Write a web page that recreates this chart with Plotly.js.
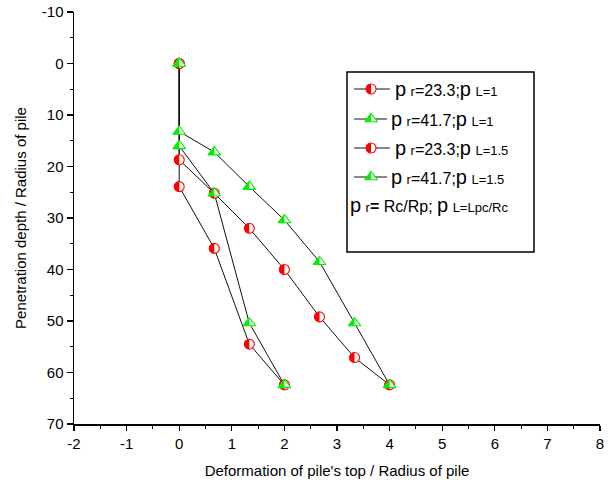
<!DOCTYPE html>
<html>
<head>
<meta charset="utf-8">
<script src="https://cdn.plot.ly/plotly-3.0.1.min.js"></script>
<style>html,body{margin:0;padding:0;background:#fff;}#chart{width:613px;height:482px;}</style>
</head>
<body>
<div id="chart"></div>
<script>
// ---- data ----
const x_r23_L1 = [0, 0, 0.667, 1.333, 2, 2.667, 3.333, 4];
const y_r23_L1 = [0, 18.7, 25.2, 32.0, 40.0, 49.2, 57.1, 62.4];
const x_r41_L1 = [0, 0, 0.667, 1.333, 2, 2.667, 3.333, 4];
const y_r41_L1 = [0, 13.2, 17.2, 23.9, 30.4, 38.5, 50.4, 62.4];
const x_r23_L15 = [0, 0, 0.667, 1.333, 2];
const y_r23_L15 = [0, 23.9, 35.9, 54.5, 62.4];
const x_r41_L15 = [0, 0, 0.667, 1.333, 2];
const y_r41_L15 = [0, 16.0, 25.2, 50.4, 62.4];

const seriesNames = [
  'p r=23.3;p L=1',
  'p r=41.7;p L=1',
  'p r=23.3;p L=1.5',
  'p r=41.7;p L=1.5'
];
const xTickVals = [-2, -1, 0, 1, 2, 3, 4, 5, 6, 7, 8];
const xTickText = ['-2', '-1', '0', '1', '2', '3', '4', '5', '6', '7', '8'];
const yTickVals = [-10, 0, 10, 20, 30, 40, 50, 60, 70];
const yTickText = ['-10', '0', '10', '20', '30', '40', '50', '60', '70'];

const RED = '#ff0000';
const GREEN = '#00ee00';
const C_SIZE = 10, T_SIZE = 11;

const series = [
  {x: x_r23_L1, y: y_r23_L1, kind: 'c'},
  {x: x_r41_L1, y: y_r41_L1, kind: 't'},
  {x: x_r23_L15, y: y_r23_L15, kind: 'c'},
  {x: x_r41_L15, y: y_r41_L15, kind: 't'}
];

// layout helpers (plot area in pixels) for the legend box
const PL = 74, PR = 600, PT = 12, PB = 424;
const px = v => (v - PL) / (PR - PL);
const py = v => (PB - v) / (PB - PT);
const rowY = [89, 119, 148, 177, 205];

function markerPair(xs, ys, isC, xa, ya) {
  const col = isC ? RED : GREEN;
  const sym = isC ? 'circle' : 'triangle-up';
  const sz = isC ? C_SIZE : T_SIZE;
  return [
    {x: xs, y: ys, xaxis: xa, yaxis: ya, mode: 'markers', type: 'scatter', showlegend: false, hoverinfo: 'skip',
     marker: {symbol: sym, size: sz, color: '#fff', line: {width: 1.1, color: col}}},
    {x: xs, y: ys, xaxis: xa, yaxis: ya, mode: 'markers', type: 'scatter', showlegend: false, hoverinfo: 'skip',
     meta: isC ? 'half-c' : 'half-t',
     marker: {symbol: sym, size: sz, color: col, line: {width: 0}}}
  ];
}

const traces = [];
series.forEach((s, i) => {
  traces.push({x: s.x, y: s.y, mode: 'lines', type: 'scatter', name: seriesNames[i],
    line: {color: '#111', width: 1}, showlegend: false, hoverinfo: 'skip'});
});
[0, 2, 1, 3].forEach(i => {
  const s = series[i];
  traces.push(...markerPair(s.x, s.y, s.kind === 'c', 'x', 'y'));
});

// legend box, sample lines + markers on a hidden overlay axis spanning the plot area (0..1)
const shapes = [
  {type: 'rect', xref: 'paper', yref: 'paper', x0: px(347), x1: px(534), y0: py(72), y1: py(252),
   line: {color: '#000', width: 1.5}, fillcolor: '#fff', layer: 'below'}
];
const big = t => '<span style="font-size:20px">' + t + '</span>';
const sm = t => '<span style="font-size:13px">' + t + '</span>';
const legendLabels = [
  big('p') + ' ' + sm('r') + '=23.3;' + big('p') + ' ' + sm('L=1'),
  big('p') + ' ' + sm('r') + '=41.7;' + big('p') + ' ' + sm('L=1'),
  big('p') + ' ' + sm('r') + '=23.3;' + big('p') + ' ' + sm('L=1.5'),
  big('p') + ' ' + sm('r') + '=41.7;' + big('p') + ' ' + sm('L=1.5')
];
const annotations = [];
legendLabels.forEach((lab, i) => {
  const isC = series[i].kind === 'c';
  traces.push({x: [px(354), px(isC ? 390 : 387)], y: [py(rowY[i]), py(rowY[i])], xaxis: 'x2', yaxis: 'y2',
    mode: 'lines', type: 'scatter', showlegend: false, hoverinfo: 'skip', line: {color: '#111', width: 1}});
  traces.push(...markerPair([px(371)], [py(rowY[i])], isC, 'x2', 'y2'));
  annotations.push({xref: 'paper', yref: 'paper', x: px(isC ? 393 : 389), y: py(rowY[i]), text: lab,
    showarrow: false, xanchor: 'left', yanchor: 'middle',
    font: {family: 'Liberation Sans, Arial', size: 16, color: '#000'}});
});
annotations.push({xref: 'paper', yref: 'paper', x: px(348), y: py(rowY[4]),
  text: big('p') + ' ' + sm('r') + '<b>=</b> Rc/Rp; ' + big('p') + ' ' + sm('L=Lpc/Rc'),
  showarrow: false, xanchor: 'left', yanchor: 'middle',
  font: {family: 'Liberation Sans, Arial', size: 16, color: '#000'}});

const layout = {
  width: 613, height: 482,
  margin: {l: PL, r: 613 - PR, t: PT, b: 482 - PB},
  paper_bgcolor: '#fff', plot_bgcolor: '#fff',
  showlegend: false,
  font: {family: 'Liberation Sans, Arial', size: 14, color: '#000'},
  xaxis: {
    range: [-2, 8], tickvals: xTickVals, ticktext: xTickText, ticks: 'outside', ticklen: 5, tickwidth: 1.2, tickcolor: '#000',
    minor: {dtick: 0.5, ticks: 'outside', ticklen: 3, tickwidth: 1, tickcolor: '#000', showgrid: false},
    showline: true, linecolor: '#000', linewidth: 1.5, showgrid: false, zeroline: false,
    tickfont: {size: 15},
    title: {text: "Deformation of pile's top / Radius of pile", font: {size: 15}, standoff: 15}
  },
  yaxis: {
    range: [70, -10], tickvals: yTickVals, ticktext: yTickText, ticks: 'outside', ticklen: 6, tickwidth: 1.2, tickcolor: '#000',
    minor: {dtick: 5, ticks: 'outside', ticklen: 3, tickwidth: 1, tickcolor: '#000', showgrid: false},
    showline: true, linecolor: '#000', linewidth: 1.5, showgrid: false, zeroline: false,
    tickfont: {size: 15},
    title: {text: 'Penetration depth / Radius of pile', font: {size: 15}, standoff: 11}
  },
  xaxis2: {overlaying: 'x', anchor: 'y2', range: [0, 1], visible: false, fixedrange: true},
  yaxis2: {overlaying: 'y', anchor: 'x2', range: [0, 1], visible: false, fixedrange: true},
  shapes: shapes,
  annotations: annotations
};

// left-half paths for the half-filled markers
function halfPath(kind) {
  if (kind === 'half-c') {
    const r = C_SIZE / 2;
    return 'M0,-' + r + 'A' + r + ',' + r + ' 0 0,0 0,' + r + 'Z';
  }
  const r = T_SIZE / 2;
  const rt = (r * 2 / Math.sqrt(3)).toFixed(2);
  const r2 = (r / 2).toFixed(2);
  return 'M-' + rt + ',' + r2 + 'H0V-' + r.toFixed(2) + 'Z';
}

Plotly.newPlot('chart', traces, layout, {displayModeBar: false, staticPlot: true}).then(gd => {
  gd.querySelectorAll('.scatterlayer .trace').forEach(el => {
    const d = el.__data__;
    const tr = d && d[0] && d[0].trace;
    if (tr && (tr.meta === 'half-c' || tr.meta === 'half-t')) {
      const p = halfPath(tr.meta);
      el.querySelectorAll('path.point').forEach(pt => pt.setAttribute('d', p));
    }
  });
});
</script>
</body>
</html>
